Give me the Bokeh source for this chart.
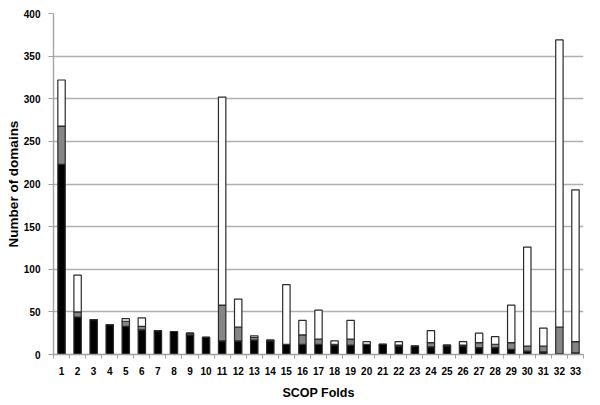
from bokeh.plotting import figure
from bokeh.models import ColumnDataSource, Range1d, FixedTicker
from bokeh.embed import file_html
from bokeh.resources import INLINE

folds = list(range(1, 34))
fold_labels = [str(f) for f in folds]
black = [223, 44, 41, 35, 33, 29, 28, 27, 23, 20, 16, 16, 17, 16, 12, 12, 12, 11, 11, 12, 12, 10, 10, 9, 10, 10, 8, 8, 6, 4, 3, 1, 2]
gray = [45, 6, 0, 0, 6, 4, 0, 0, 2, 0, 42, 16, 3, 1, 0, 11, 6, 1, 7, 0, 0, 1, 0, 5, 1, 1, 6, 4, 8, 6, 7, 31, 13]
white = [54, 43, 0, 0, 3, 10, 0, 0, 0, 0, 244, 33, 2, 0, 70, 17, 34, 4, 22, 3, 0, 4, 0, 14, 0, 4, 11, 9, 44, 116, 21, 337, 178]
y_ticks = [0, 50, 100, 150, 200, 250, 300, 350, 400]

source = ColumnDataSource(dict(fold=folds, black=black, gray=gray, white=white))

p = figure(width=600, height=405, output_backend="svg", toolbar_location=None,
           x_range=Range1d(0.5, 33.5), y_range=Range1d(0, 400),
           min_border_left=53, min_border_right=17, min_border_top=13, min_border_bottom=51)
p.outline_line_color = None

p.vbar_stack(["black", "gray", "white"], x="fold", width=0.46, source=source,
             fill_color=["#000000", "#858585", "#ffffff"],
             line_color="#2a2a2a", line_width=1.2)

# grids
p.xgrid.grid_line_color = None
p.ygrid.grid_line_color = "#b0b0b0"
p.ygrid.grid_line_width = 1.3
p.yaxis.ticker = FixedTicker(ticks=y_ticks)
p.xaxis.ticker = FixedTicker(ticks=folds, minor_ticks=[f + 0.5 for f in [0] + folds])
p.xaxis.major_label_overrides = {f: l for f, l in zip(folds, fold_labels)}

for ax in (p.xaxis[0], p.yaxis[0]):
    ax.axis_line_color = "#a0a0a0"
    ax.axis_line_width = 1.3
    ax.major_label_text_font = "Liberation Sans"
    ax.major_label_text_font_style = "bold"
    ax.major_label_text_font_size = "10px"
    ax.major_label_text_color = "#000000"
    ax.axis_label_text_font = "Liberation Sans"
    ax.axis_label_text_font_style = "bold"
    ax.axis_label_text_color = "#000000"

p.xaxis.major_tick_line_color = None
p.xaxis.major_tick_out = 0
p.xaxis.major_tick_in = 0
p.xaxis.minor_tick_line_color = "#a0a0a0"
p.xaxis.minor_tick_out = 4
p.xaxis.minor_tick_in = 0
p.xaxis.major_label_standoff = 8
p.xaxis.axis_label = "SCOP Folds"
p.xaxis.axis_label_text_font_size = "12.5px"
p.xaxis.axis_label_standoff = 8

p.yaxis.major_tick_line_color = "#a0a0a0"
p.yaxis.major_tick_out = 5
p.yaxis.major_tick_in = 0
p.yaxis.minor_tick_line_color = None
p.yaxis.major_label_standoff = 8
p.yaxis.axis_label = "Number of domains"
p.yaxis.axis_label_text_font_size = "13.5px"
p.yaxis.axis_label_standoff = 0

open("out.html", "w").write(file_html(p, INLINE))
